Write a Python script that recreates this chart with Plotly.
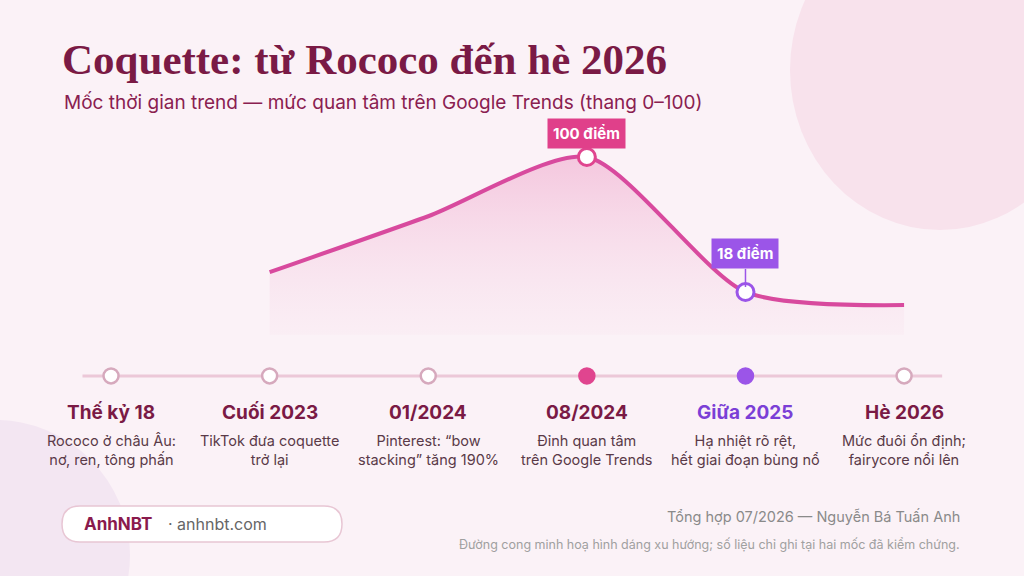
import plotly.graph_objects as go

stages = ["Thế kỷ 18", "Cuối 2023", "01/2024", "08/2024", "Giữa 2025", "Hè 2026"]
descs = [["Rococo ở châu Âu:", "nơ, ren, tông phấn"],
         ["TikTok đưa coquette", "trở lại"],
         ["Pinterest: “bow", "stacking” tăng 190%"],
         ["Đỉnh quan tâm", "trên Google Trends"],
         ["Hạ nhiệt rõ rệt,", "hết giai đoạn bùng nổ"],
         ["Mức đuôi ổn định;", "fairycore nổi lên"]]
curve_x = [1, 2, 3, 4, 5]
curve_y = [30, 64, 100, 18, 10]
base_y = [-8, -8, -8, -8, -8]
timeline_level = -33

W, H = 1024, 576
def px(x): return x / W
def py(y): return 1 - y / H

fig = go.Figure()
fig.add_trace(go.Scatter(x=curve_x, y=base_y, mode="lines", line=dict(width=0), hoverinfo="skip", showlegend=False))
fig.add_trace(go.Scatter(x=curve_x, y=curve_y, mode="lines", line=dict(shape="spline", smoothing=0.7, width=4, color="#d84a9e"),
                         fill="tonexty",
                         fillgradient=dict(type="vertical", colorscale=[[0, "rgba(246,214,230,0.15)"], [1, "rgba(240,170,205,0.6)"]]),
                         showlegend=False))
fig.add_trace(go.Scatter(x=[-0.18, 5.24], y=[timeline_level]*2, mode="lines", line=dict(color="#ecc8d8", width=3), showlegend=False))
tl_fill = ["white", "white", "white", "#e0458f", "#9b55e8", "white"]
tl_line = ["#d6a9bd", "#d6a9bd", "#d6a9bd", "#e0458f", "#9b55e8", "#d6a9bd"]
fig.add_trace(go.Scatter(x=list(range(6)), y=[timeline_level]*6, mode="markers",
                         marker=dict(size=15, color=tl_fill, line=dict(color=tl_line, width=2.5)), showlegend=False))
fig.add_trace(go.Scatter(x=[curve_x[2], curve_x[3]], y=[curve_y[2], curve_y[3]], mode="markers",
                         marker=dict(size=17, color="white", line=dict(color=["#e0458f", "#9b55e8"], width=3)), showlegend=False))

fig.update_xaxes(range=[-0.700, 5.756], visible=False, fixedrange=True)
fig.update_yaxes(range=[-154.6, 195.4], visible=False, fixedrange=True)

shapes = [
    dict(type="circle", xref="paper", yref="paper", x0=px(790), x1=px(1090), y0=py(230), y1=py(-90),
         fillcolor="#f8e2ec", line=dict(width=0), layer="below"),
    dict(type="circle", xref="paper", yref="paper", x0=px(-140), x1=px(130), y0=py(690), y1=py(420),
         fillcolor="#f3e6f2", line=dict(width=0), layer="below"),
    dict(type="line", xref="x", yref="y", x0=curve_x[3], x1=curve_x[3], y0=curve_y[3] + 3, y1=curve_y[3] + 14,
         line=dict(color="#9b55e8", width=1.5)),
]
x0, x1, y0, y1, r = px(62), px(342), py(506), py(542), 18
rx, ry = r / W, r / H
path = (f"M {x0+rx},{y0} L {x1-rx},{y0} Q {x1},{y0} {x1},{y0-ry} L {x1},{y1+ry} Q {x1},{y1} {x1-rx},{y1} "
        f"L {x0+rx},{y1} Q {x0},{y1} {x0},{y1+ry} L {x0},{y0-ry} Q {x0},{y0} {x0+rx},{y0} Z")
shapes.append(dict(type="path", xref="paper", yref="paper", path=path, fillcolor="white", line=dict(color="#e8c6d4", width=1.5)))

ann = []
F = "Inter"
ann.append(dict(x=px(60), y=py(60), text="<b>Coquette: từ Rococo đến hè 2026</b>", xanchor="left", yanchor="middle",
                font=dict(family="Liberation Serif", size=43, color="#7a1a45")))
ann.append(dict(x=px(62), y=py(102), text="Mốc thời gian trend — mức quan tâm trên Google Trends (thang 0–100)", xanchor="left",
                yanchor="middle", font=dict(family=F, size=19, color="#8a2050")))
for i in range(6):
    col = "#7b3fd6" if i == 4 else "#7a1a45"
    ann.append(dict(x=i, y=py(412), xref="x", yref="paper", text=f"<b>{stages[i]}</b>", yanchor="middle",
                    font=dict(family=F, size=19, color=col)))
    ann.append(dict(x=i, y=py(450), xref="x", yref="paper", text="<br>".join(descs[i]), yanchor="middle",
                    font=dict(family=F, size=14.5, color="#5a3a48")))
ann.append(dict(x=curve_x[2], y=py(133), xref="x", yref="paper", text=f"<b>{curve_y[2]} điểm</b>", yanchor="middle",
                bgcolor="#e0408a", borderpad=5, font=dict(family=F, size=15, color="white")))
ann.append(dict(x=curve_x[3], y=py(253), xref="x", yref="paper", text=f"<b>{curve_y[3]} điểm</b>", yanchor="middle",
                bgcolor="#9b55e8", borderpad=5, font=dict(family=F, size=15, color="white")))
ann.append(dict(x=px(82), y=py(524), text="<b>AnhNBT</b>", xanchor="left", yanchor="middle",
                font=dict(family=F, size=17, color="#8a1a4d")))
ann.append(dict(x=px(166), y=py(524), text="· anhnbt.com", xanchor="left", yanchor="middle",
                font=dict(family=F, size=16, color="#666666")))
ann.append(dict(x=px(962), y=py(517), text="Tổng hợp 07/2026 — Nguyễn Bá Tuấn Anh", xanchor="right", yanchor="middle",
                font=dict(family=F, size=14.5, color="#8a8a8a")))
ann.append(dict(x=px(962), y=py(544), text="Đường cong minh hoạ hình dáng xu hướng; số liệu chỉ ghi tại hai mốc đã kiểm chứng.",
                xanchor="right", yanchor="middle", font=dict(family=F, size=12.5, color="#a0a0a0")))
for a in ann:
    a.setdefault("xref", "paper"); a.setdefault("yref", "paper"); a["showarrow"] = False

fig.update_layout(width=W, height=H, margin=dict(l=0, r=0, t=0, b=0), paper_bgcolor="#fbf2f7", plot_bgcolor="rgba(0,0,0,0)",
                  shapes=shapes, annotations=ann, showlegend=False)
fig.write_html("out.html", config=dict(displayModeBar=False),
               post_script="document.body.style.margin='0';document.body.style.overflow='hidden';")
